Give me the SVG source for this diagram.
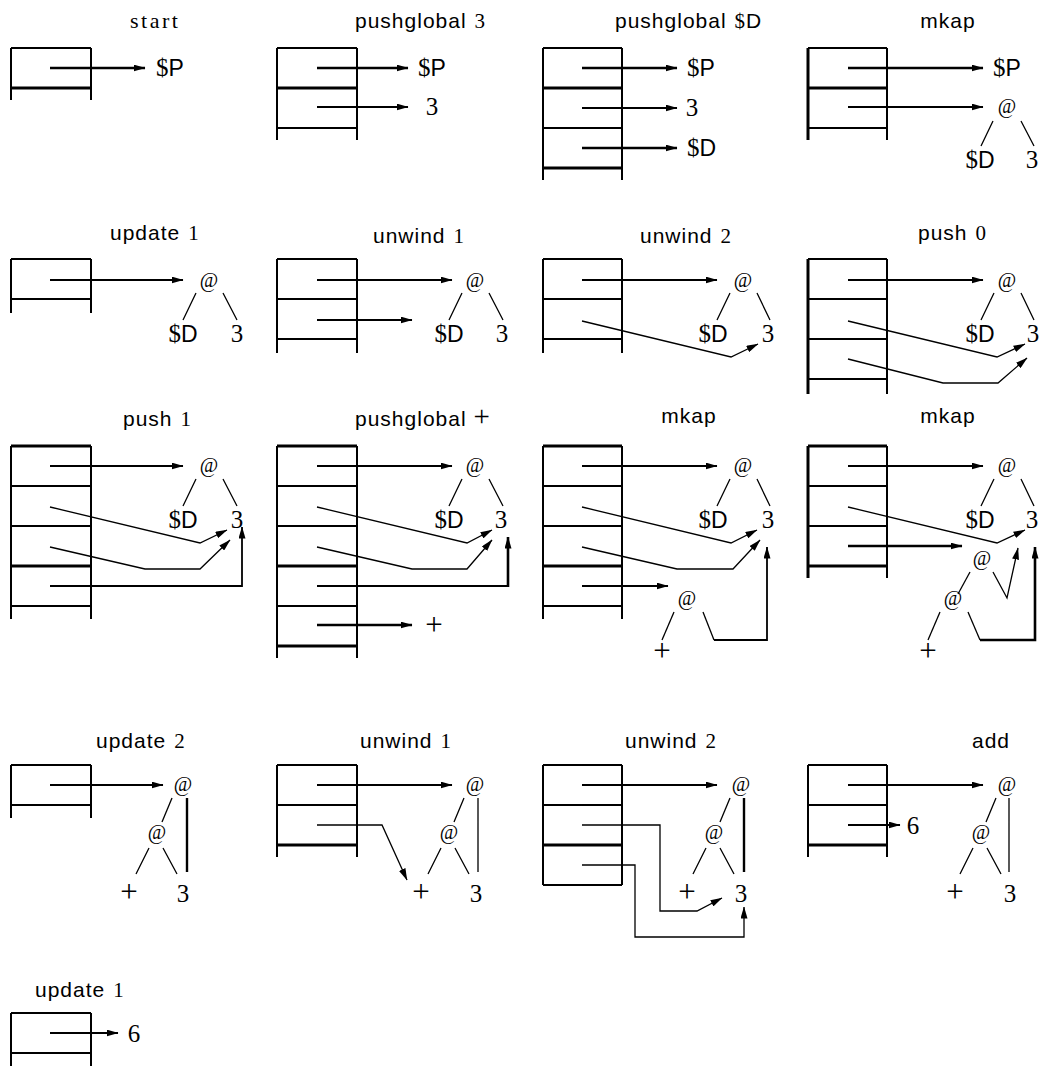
<svg xmlns="http://www.w3.org/2000/svg" width="1044" height="1069" viewBox="0 0 1044 1069">
  <style>
    .cell { fill: none; stroke: #000; stroke-width: 2; }
    .thk { stroke-width: 3; }
    .lnk { fill: none; stroke: #000; stroke-width: 1.8; }
    .lnk.b { stroke-width: 2.6; }
    .lnk.s { stroke-width: 1.3; }
    .br { fill: none; stroke: #000; stroke-width: 1.3; }
    .br.b { stroke-width: 2.4; }
    .arr { marker-end: url(#ah); }
    text { fill: #000; }
    .rm { font-family: "Liberation Serif", "Times New Roman", serif; }
    .sf { font-family: "Liberation Sans", Arial, sans-serif; }
    .t { font-size: 21px; letter-spacing: 1px; }
    .lb { font-size: 23px; }
    .lb .rm, .lb.rm { font-size: 25px; }
    .at { font-size: 20px; font-family: "Liberation Serif", "Times New Roman", serif; }
    .pl { font-size: 31px; font-family: "Liberation Serif", "Times New Roman", serif; }
    .mid { text-anchor: middle; }
  </style>
  <defs>
    <marker id="ah" viewBox="0 0 12 7" markerWidth="12" markerHeight="7" refX="11.5" refY="3.5" orient="auto" markerUnits="userSpaceOnUse">
      <path d="M0,0 L12,3.5 L0,7 z" fill="#000"/>
    </marker>
  </defs>
  <rect width="1044" height="1069" fill="#fff"/>

  <!-- ===== row 1 ===== -->
  <g id="s-start">
    <text class="rm" x="130" y="28" font-size="22" letter-spacing="2.5">start</text>
    <g id="s-start-stack">
      <path class="cell" d="M11,48 V100 M91,48 V100 M11,48 H91"/>
      <path class="cell thk" d="M11,88 H91"/>
    </g>
    <g id="s-start-heap">
      <text class="lb" x="156" y="76"><tspan class="rm">$</tspan><tspan class="sf">P</tspan></text>
    </g>
    <g id="s-start-links">
      <path class="lnk b arr" d="M50,68 H145"/>
    </g>
  </g>

  <g id="s-pg3">
    <text class="t" x="355" y="28"><tspan class="sf">pushglobal</tspan><tspan class="rm" dx="8">3</tspan></text>
    <g id="s-pg3-stack">
      <path class="cell" d="M277,48 V140 M357,48 V140 M277,48 H357 M277,128 H357"/>
      <path class="cell thk" d="M277,88 H357"/>
    </g>
    <g id="s-pg3-heap">
      <text class="lb" x="418" y="76"><tspan class="rm">$</tspan><tspan class="sf">P</tspan></text>
      <text class="lb rm mid" x="432" y="115">3</text>
    </g>
    <g id="s-pg3-links">
      <path class="lnk b arr" d="M317,68 H408"/>
      <path class="lnk arr" d="M317,107 H408"/>
    </g>
  </g>

  <g id="s-pgD">
    <text class="t" x="615" y="28"><tspan class="sf">pushglobal</tspan><tspan class="rm" dx="8">$</tspan><tspan class="sf">D</tspan></text>
    <g id="s-pgD-stack">
      <path class="cell" d="M543,48 V180 M622,48 V180 M543,48 H622 M543,128 H622"/>
      <path class="cell thk" d="M543,88 H622 M543,168 H622"/>
    </g>
    <g id="s-pgD-heap">
      <text class="lb" x="687" y="76"><tspan class="rm">$</tspan><tspan class="sf">P</tspan></text>
      <text class="lb rm mid" x="692" y="116">3</text>
      <text class="lb" x="687" y="156"><tspan class="rm">$</tspan><tspan class="sf">D</tspan></text>
    </g>
    <g id="s-pgD-links">
      <path class="lnk b arr" d="M582,68 H677"/>
      <path class="lnk arr" d="M582,108 H677"/>
      <path class="lnk b arr" d="M582,148 H677"/>
    </g>
  </g>

  <g id="s-mkap1">
    <text class="t sf mid" x="948" y="28">mkap</text>
    <g id="s-mkap1-stack">
      <path class="cell" d="M887,48 V140 M808,48 H887 M808,128 H887"/>
      <path class="cell thk" d="M808,48 V140 M808,88 H887"/>
    </g>
    <g id="s-mkap1-heap">
      <text class="lb" x="993" y="76"><tspan class="rm">$</tspan><tspan class="sf">P</tspan></text>
      <text class="at mid" x="1007" y="113">@</text>
      <path class="br" d="M993,121 L981,146 M1021,121 L1034,146"/>
      <text class="lb mid" x="980" y="168"><tspan class="rm">$</tspan><tspan class="sf">D</tspan></text>
      <text class="lb rm mid" x="1032" y="168">3</text>
    </g>
    <g id="s-mkap1-links">
      <path class="lnk b arr" d="M848,68 H983"/>
      <path class="lnk arr" d="M848,107 H983"/>
    </g>
  </g>

  <!-- ===== row 2 ===== -->
  <g id="s-upd1">
    <text class="t" x="110" y="240"><tspan class="sf">update</tspan><tspan class="rm" dx="8">1</tspan></text>
    <g id="s-upd1-stack">
      <path class="cell" d="M11,259 V313 M91,259 V313 M11,259 H91 M11,299 H91"/>
    </g>
    <g id="s-upd1-heap">
      <text class="at mid" x="209" y="287">@</text>
      <path class="br" d="M196,293 L183,320 M223,293 L237,320"/>
      <text class="lb mid" x="183" y="342"><tspan class="rm">$</tspan><tspan class="sf">D</tspan></text>
      <text class="lb rm mid" x="237" y="342">3</text>
    </g>
    <g id="s-upd1-links">
      <path class="lnk arr" d="M50,280 H183"/>
    </g>
  </g>

  <g id="s-unw1">
    <text class="t" x="373" y="243"><tspan class="sf">unwind</tspan><tspan class="rm" dx="8">1</tspan></text>
    <g id="s-unw1-stack">
      <path class="cell" d="M277,259 V353 M357,259 V353 M277,259 H357 M277,299 H357 M277,339 H357"/>
    </g>
    <g id="s-unw1-heap">
      <text class="at mid" x="475" y="287">@</text>
      <path class="br" d="M462,293 L449,320 M489,293 L503,320"/>
      <text class="lb mid" x="449" y="342"><tspan class="rm">$</tspan><tspan class="sf">D</tspan></text>
      <text class="lb rm mid" x="502" y="342">3</text>
    </g>
    <g id="s-unw1-links">
      <path class="lnk arr" d="M317,280 H452"/>
      <path class="lnk arr" d="M317,320 H412"/>
    </g>
  </g>

  <g id="s-unw2">
    <text class="t" x="640" y="243"><tspan class="sf">unwind</tspan><tspan class="rm" dx="8">2</tspan></text>
    <g id="s-unw2-stack">
      <path class="cell" d="M543,259 V353 M622,259 V353 M543,259 H622 M543,299 H622 M543,339 H622"/>
    </g>
    <g id="s-unw2-heap">
      <text class="at mid" x="743" y="287">@</text>
      <path class="br" d="M730,293 L717,320 M757,293 L770,320"/>
      <text class="lb mid" x="713" y="342"><tspan class="rm">$</tspan><tspan class="sf">D</tspan></text>
      <text class="lb rm mid" x="768" y="342">3</text>
    </g>
    <g id="s-unw2-links">
      <path class="lnk arr" d="M582,280 H717"/>
      <path class="lnk s arr" d="M582,321 L731,357 L758,344"/>
    </g>
  </g>

  <g id="s-push0">
    <text class="t" x="918" y="240"><tspan class="sf">push</tspan><tspan class="rm" dx="8">0</tspan></text>
    <g id="s-push0-stack">
      <path class="cell" d="M887,259 V394 M808,259 H887 M808,299 H887 M808,339 H887 M808,379 H887"/>
      <path class="cell thk" d="M808,259 V394"/>
    </g>
    <g id="s-push0-heap">
      <text class="at mid" x="1007" y="287">@</text>
      <path class="br" d="M994,293 L981,320 M1021,293 L1034,320"/>
      <text class="lb mid" x="980" y="342"><tspan class="rm">$</tspan><tspan class="sf">D</tspan></text>
      <text class="lb rm mid" x="1033" y="342">3</text>
    </g>
    <g id="s-push0-links">
      <path class="lnk arr" d="M848,280 H983"/>
      <path class="lnk s arr" d="M848,321 L997,357 L1025,344"/>
      <path class="lnk s arr" d="M848,359 L943,383 L998,383 L1027,358"/>
    </g>
  </g>

  <!-- ===== row 3 ===== -->
  <g id="s-push1">
    <text class="t" x="123" y="426"><tspan class="sf">push</tspan><tspan class="rm" dx="8">1</tspan></text>
    <g id="s-push1-stack">
      <path class="cell" d="M11,446 V619 M91,446 V619 M11,486 H91 M11,526 H91 M11,606 H91"/>
      <path class="cell thk" d="M11,446 H91 M11,566 H91"/>
    </g>
    <g id="s-push1-heap">
      <text class="at mid" x="209" y="472">@</text>
      <path class="br" d="M196,479 L183,506 M223,479 L237,506"/>
      <text class="lb mid" x="183" y="528"><tspan class="rm">$</tspan><tspan class="sf">D</tspan></text>
      <text class="lb rm mid" x="237" y="528">3</text>
    </g>
    <g id="s-push1-links">
      <path class="lnk arr" d="M50,466 H183"/>
      <path class="lnk s arr" d="M50,507 L200,543 L227,530"/>
      <path class="lnk s arr" d="M50,547 L145,569 L200,569 L230,540"/>
      <path class="lnk arr" d="M50,586 H242 V527"/>
    </g>
  </g>

  <g id="s-pgplus">
    <text class="t" x="355" y="426"><tspan class="sf">pushglobal</tspan><tspan class="rm" dx="7" font-size="29">+</tspan></text>
    <g id="s-pgplus-stack">
      <path class="cell" d="M277,446 V658 M357,446 V658 M277,486 H357 M277,526 H357 M277,606 H357"/>
      <path class="cell thk" d="M277,446 H357 M277,566 H357 M277,646 H357"/>
    </g>
    <g id="s-pgplus-heap">
      <text class="at mid" x="475" y="472">@</text>
      <path class="br" d="M462,479 L449,506 M489,479 L503,506"/>
      <text class="lb mid" x="449" y="528"><tspan class="rm">$</tspan><tspan class="sf">D</tspan></text>
      <text class="lb rm mid" x="501" y="528">3</text>
      <text class="pl mid" x="434" y="635">+</text>
    </g>
    <g id="s-pgplus-links">
      <path class="lnk arr" d="M317,466 H452"/>
      <path class="lnk s arr" d="M317,507 L467,543 L492,530"/>
      <path class="lnk s arr" d="M317,547 L412,569 L467,569 L492,540"/>
      <path class="lnk" d="M317,586 H508"/>
      <path class="lnk b arr" d="M508,587 V537"/>
      <path class="lnk b arr" d="M317,625 H412"/>
    </g>
  </g>

  <g id="s-mkap2">
    <text class="t sf mid" x="689" y="423">mkap</text>
    <g id="s-mkap2-stack">
      <path class="cell" d="M543,446 V619 M622,446 V619 M543,486 H622 M543,526 H622 M543,606 H622"/>
      <path class="cell thk" d="M543,446 H622 M543,566 H622"/>
    </g>
    <g id="s-mkap2-heap">
      <text class="at mid" x="743" y="472">@</text>
      <path class="br" d="M730,479 L717,506 M757,479 L770,506"/>
      <text class="lb mid" x="713" y="528"><tspan class="rm">$</tspan><tspan class="sf">D</tspan></text>
      <text class="lb rm mid" x="768" y="528">3</text>
      <text class="at mid" x="687" y="605">@</text>
      <path class="br" d="M674,612 L662,640"/>
      <text class="pl mid" x="662" y="661">+</text>
    </g>
    <g id="s-mkap2-links">
      <path class="lnk arr" d="M582,466 H717"/>
      <path class="lnk s arr" d="M582,507 L731,543 L757,530"/>
      <path class="lnk s arr" d="M582,547 L677,569 L733,569 L760,540"/>
      <path class="lnk arr" d="M582,586 H668"/>
      <path class="br" d="M703,612 L714,640"/>
      <path class="lnk arr" d="M714,640 H767 V547"/>
    </g>
  </g>

  <g id="s-mkap3">
    <text class="t sf mid" x="948" y="423">mkap</text>
    <g id="s-mkap3-stack">
      <path class="cell" d="M887,446 V578 M808,486 H887 M808,526 H887"/>
      <path class="cell thk" d="M808,446 V578 M808,446 H887 M808,566 H887"/>
    </g>
    <g id="s-mkap3-heap">
      <text class="at mid" x="1007" y="472">@</text>
      <path class="br" d="M994,479 L981,506 M1021,479 L1034,506"/>
      <text class="lb mid" x="980" y="528"><tspan class="rm">$</tspan><tspan class="sf">D</tspan></text>
      <text class="lb rm mid" x="1032" y="528">3</text>
      <text class="at mid" x="982" y="565">@</text>
      <path class="br" d="M970,572 L958,594"/>
      <text class="at mid" x="953" y="605">@</text>
      <path class="br" d="M940,612 L928,640"/>
      <text class="pl mid" x="928" y="661">+</text>
    </g>
    <g id="s-mkap3-links">
      <path class="lnk arr" d="M848,466 H983"/>
      <path class="lnk s arr" d="M848,507 L997,543 L1025,530"/>
      <path class="lnk b arr" d="M848,546 H962"/>
      <path class="lnk s arr" d="M993,572 L1007,598 L1018,548"/>
      <path class="br" d="M968,612 L980,640"/>
      <path class="lnk b arr" d="M980,640 H1035 V547"/>
    </g>
  </g>

  <!-- ===== row 4 ===== -->
  <g id="s-upd2">
    <text class="t" x="96" y="748"><tspan class="sf">update</tspan><tspan class="rm" dx="8">2</tspan></text>
    <g id="s-upd2-stack">
      <path class="cell" d="M11,765 V818 M91,765 V818 M11,765 H91 M11,805 H91"/>
    </g>
    <g id="s-upd2-heap">
      <text class="at mid" x="183" y="791">@</text>
      <path class="br" d="M172,798 L162,822"/>
      <path class="br b" d="M187,798 V872"/>
      <text class="at mid" x="157" y="839">@</text>
      <path class="br" d="M149,848 L136,874 M163,848 L177,874"/>
      <text class="pl mid" x="129" y="902">+</text>
      <text class="lb rm mid" x="183" y="902">3</text>
    </g>
    <g id="s-upd2-links">
      <path class="lnk arr" d="M50,785 H163"/>
    </g>
  </g>

  <g id="s-unw3">
    <text class="t" x="360" y="748"><tspan class="sf">unwind</tspan><tspan class="rm" dx="8">1</tspan></text>
    <g id="s-unw3-stack">
      <path class="cell" d="M277,765 V857 M357,765 V857 M277,765 H357 M277,805 H357"/>
      <path class="cell thk" d="M277,845 H357"/>
    </g>
    <g id="s-unw3-heap">
      <text class="at mid" x="475" y="791">@</text>
      <path class="br" d="M464,798 L454,822 M478,798 V872"/>
      <text class="at mid" x="449" y="839">@</text>
      <path class="br" d="M441,848 L428,874 M455,848 L469,874"/>
      <text class="pl mid" x="421" y="902">+</text>
      <text class="lb rm mid" x="476" y="902">3</text>
    </g>
    <g id="s-unw3-links">
      <path class="lnk arr" d="M317,785 H452"/>
      <path class="lnk s arr" d="M317,825 H382 L407,880"/>
    </g>
  </g>

  <g id="s-unw4">
    <text class="t" x="625" y="748"><tspan class="sf">unwind</tspan><tspan class="rm" dx="8">2</tspan></text>
    <g id="s-unw4-stack">
      <path class="cell" d="M543,765 V885 M622,765 V885 M543,765 H622 M543,805 H622 M543,885 H622"/>
      <path class="cell thk" d="M543,845 H622"/>
    </g>
    <g id="s-unw4-heap">
      <text class="at mid" x="741" y="791">@</text>
      <path class="br" d="M730,798 L720,822"/>
      <path class="br b" d="M744,798 V872"/>
      <text class="at mid" x="714" y="839">@</text>
      <path class="br" d="M706,848 L693,874 M720,848 L734,874"/>
      <text class="pl mid" x="687" y="902">+</text>
      <text class="lb rm mid" x="741" y="902">3</text>
    </g>
    <g id="s-unw4-links">
      <path class="lnk arr" d="M582,785 H717"/>
      <path class="lnk s arr" d="M582,825 H660 V911 H697 L722,898"/>
      <path class="lnk s arr" d="M582,865 H635 V937 H744 V907"/>
    </g>
  </g>

  <g id="s-add">
    <text class="t sf" x="972" y="748">add</text>
    <g id="s-add-stack">
      <path class="cell" d="M808,765 V857 M887,765 V857 M808,765 H887 M808,805 H887"/>
      <path class="cell thk" d="M808,845 H887"/>
    </g>
    <g id="s-add-heap">
      <text class="lb rm mid" x="913" y="834">6</text>
      <text class="at mid" x="1007" y="791">@</text>
      <path class="br" d="M996,798 L986,822 M1009,798 V872"/>
      <text class="at mid" x="981" y="839">@</text>
      <path class="br" d="M973,848 L960,874 M987,848 L1001,874"/>
      <text class="pl mid" x="955" y="902">+</text>
      <text class="lb rm mid" x="1010" y="902">3</text>
    </g>
    <g id="s-add-links">
      <path class="lnk arr" d="M848,785 H983"/>
      <path class="lnk arr" d="M848,825 H900"/>
    </g>
  </g>

  <!-- ===== row 5 ===== -->
  <g id="s-upd3">
    <text class="t" x="35" y="997"><tspan class="sf">update</tspan><tspan class="rm" dx="8">1</tspan></text>
    <g id="s-upd3-stack">
      <path class="cell" d="M11,1013 V1066 M91,1013 V1066 M11,1013 H91 M11,1053 H91"/>
    </g>
    <g id="s-upd3-heap">
      <text class="lb rm mid" x="134" y="1042">6</text>
    </g>
    <g id="s-upd3-links">
      <path class="lnk arr" d="M50,1033 H118"/>
    </g>
  </g>
</svg>
